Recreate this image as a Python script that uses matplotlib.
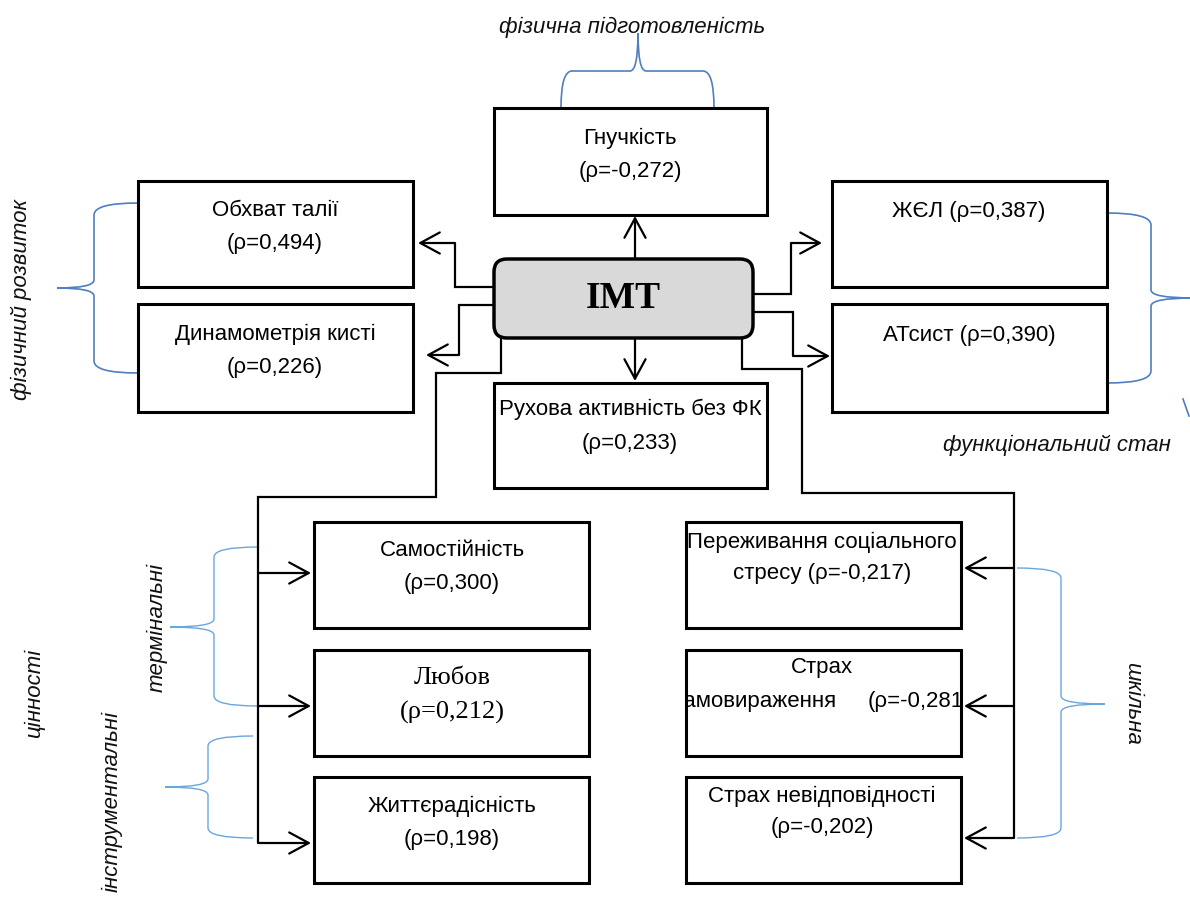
import matplotlib
matplotlib.use("Agg")
import matplotlib.pyplot as plt
from matplotlib.patches import Rectangle, FancyBboxPatch, PathPatch, FancyArrowPatch
from matplotlib.path import Path
from matplotlib.transforms import Bbox, TransformedBbox

plt.rcParams['font.family'] = ['Liberation Sans', 'DejaVu Sans']

# --- data: factors correlated with BMI (Spearman rho) ---
centre_label = "ІМТ"
phys_labels = ["Обхват талії", "Динамометрія кисті"]
phys_rho = [0.494, 0.226]
fit_label = "Гнучкість"
fit_rho = -0.272
func_labels = ["ЖЄЛ", "АТсист"]
func_rho = [0.387, 0.390]
motor_label = "Рухова активність без ФК"
motor_rho = 0.233
value_labels = ["Самостійність", "Любов", "Життєрадісність"]
value_rho = [0.300, 0.212, 0.198]
school_labels = ["Переживання соціального", "Страх самовираження", "Страх невідповідності"]
school_rho = [-0.217, -0.281, -0.202]
group_labels = ["фізична підготовленість", "фізичний розвиток", "функціональний стан",
                "цінності", "термінальні", "інструментальні", "шкільна"]


def rho(v):
    return "(ρ=" + f"{v:.3f}".replace(".", ",") + ")"


fig = plt.figure(figsize=(11.9, 8.98), dpi=100)
ax = fig.add_axes([0, 0, 1, 1])
ax.set_xlim(0, 1190)
ax.set_ylim(898, 0)
ax.axis('off')

BOX_LW = 2.2
LINE_LW = 1.6
FS = 16
DARK_BLUE = '#4f7fbf'
LIGHT_BLUE = '#6aa6de'


def box(x0, y0, x1, y1):
    r = Rectangle((x0, y0), x1 - x0, y1 - y0, fc='white', ec='black', lw=BOX_LW, zorder=3)
    ax.add_patch(r)
    return r


def label(x, y, s, **kw):
    kw.setdefault('fontsize', FS)
    return ax.text(x, y, s, ha='center', va='center', zorder=5, **kw)


def connector(pts):
    # polyline with an open arrow head on the last segment
    xs = [p[0] for p in pts[:-1]]
    ys = [p[1] for p in pts[:-1]]
    ax.plot(xs, ys, color='black', lw=LINE_LW, solid_joinstyle='miter',
            solid_capstyle='butt', zorder=2)
    a = FancyArrowPatch(pts[-2], pts[-1], arrowstyle='->,head_length=0.7,head_width=0.38',
                        mutation_scale=20, lw=LINE_LW, color='black',
                        shrinkA=0, shrinkB=0, zorder=2)
    ax.add_patch(a)


def line(pts):
    ax.plot([p[0] for p in pts], [p[1] for p in pts], color='black', lw=LINE_LW,
            solid_joinstyle='miter', solid_capstyle='butt', zorder=2)


def brace(t, s, m, a1, a2, am, r=10, r2=8, vertical=True, color=DARK_BLUE, lw=1.2):
    # t: tip line, s: spine, m: middle point (perpendicular coordinate)
    # a1, a2, am: positions along the spine
    uv = [(t, a1), (s, a1), (s, a1 + r),
          (s, am - r2), (s, am), (m, am), (s, am), (s, am + r2),
          (s, a2 - r), (s, a2), (t, a2)]
    codes = [Path.MOVETO, Path.CURVE3, Path.CURVE3,
             Path.LINETO, Path.CURVE3, Path.CURVE3, Path.CURVE3, Path.CURVE3,
             Path.LINETO, Path.CURVE3, Path.CURVE3]
    if vertical:
        verts = uv
    else:
        verts = [(v, u) for u, v in uv]
    ax.add_patch(PathPatch(Path(verts, codes), fill=False, ec=color, lw=lw, zorder=1))


# --- centre box ---
ax.add_patch(FancyBboxPatch((494, 259), 259, 79, boxstyle='round,pad=0,rounding_size=13',
                            fc='#d9d9d9', ec='black', lw=2.5, zorder=3))
label(623, 299, centre_label, fontsize=27, fontweight='bold', family='Liberation Serif')

# --- top: flexibility ---
box(494, 108, 767, 215)
label(630, 138, fit_label)
label(630, 171, rho(fit_rho))
connector([(635, 259), (635, 216)])

# --- motor activity ---
box(494, 383, 767, 488)
label(630, 409, motor_label)
label(630, 443, rho(motor_rho))
connector([(635, 338), (635, 381)])

# --- left: physical development ---
box(138, 181, 413, 287)
box(138, 304, 413, 412)
label(275, 210, phys_labels[0])
label(275, 244, rho(phys_rho[0]))
label(275, 334, phys_labels[1])
label(275, 367, rho(phys_rho[1]))
connector([(494, 287), (455, 287), (455, 243), (418, 243)])
connector([(494, 305), (459, 305), (459, 355), (426, 355)])

# --- right: functional state ---
box(832, 181, 1107, 287)
box(832, 304, 1107, 412)
label(969, 211, func_labels[0] + " " + rho(func_rho[0]))
label(969, 336, func_labels[1] + " " + rho(func_rho[1]))
connector([(753, 294), (791, 294), (791, 243), (822, 243)])
connector([(753, 312), (793, 312), (793, 356), (830, 356)])

# --- bottom left: values ---
line([(501, 338), (501, 373), (436, 373), (436, 497), (258, 497), (258, 843)])
val_boxes = [(522, 628), (650, 756), (777, 883)]
val_arrow_y = [573, 706, 843]
for (t, b), ay in zip(val_boxes, val_arrow_y):
    box(314, t, 589, b)
    connector([(258, ay), (311, ay)])
label(452, 551, value_labels[0])
label(452, 584, rho(value_rho[0]))
label(452, 678, value_labels[1], family='Liberation Serif', fontsize=19)
label(452, 712, rho(value_rho[1]), family='Liberation Serif', fontsize=19)
label(452, 806, value_labels[2])
label(452, 839, rho(value_rho[2]))

# --- bottom right: school anxiety ---
line([(742, 338), (742, 369), (802, 369), (802, 493), (1014, 493), (1014, 838)])
sch_boxes = [(522, 628), (650, 756), (777, 883)]
sch_arrow_y = [568, 706, 838]
for (t, b), ay in zip(sch_boxes, sch_arrow_y):
    box(686, t, 961, b)
    connector([(1014, ay), (964, ay)])
label(822, 542, school_labels[0])
label(822, 574, "стресу " + rho(school_rho[0]))
first, second = school_labels[1].split(" ")
label(822, 668, first)
# the second line overflows its box in the original and is cut at the border
clip = TransformedBbox(Bbox([[687.5, 651.5], [959.5, 754.5]]), ax.transData)
t1 = ax.text(836, 701, second, ha='right', va='center', fontsize=FS, zorder=5)
t2 = ax.text(868, 701, rho(school_rho[1]), ha='left', va='center', fontsize=FS, zorder=5)
for t in (t1, t2):
    t.set_clip_path(None)
    t.set_clip_box(clip)
    t.set_clip_on(True)
label(822, 796, school_labels[2])
label(822, 828, rho(school_rho[2]))

# --- braces and group names ---
brace(108, 71, 33, 561, 714, 638, r=11, r2=8, vertical=False)
brace(138, 94, 57, 203, 373, 288, r=12, r2=8)
brace(1107, 1151, 1193, 213, 383, 298, r=12, r2=8)
ax.plot([1183, 1189], [399, 416], color=DARK_BLUE, lw=1.2)
brace(258, 214, 170, 547, 706, 627, r=10, r2=8, color=LIGHT_BLUE, lw=1.0)
brace(253, 208, 165, 736, 838, 787, r=10, r2=8, color=LIGHT_BLUE, lw=1.0)
brace(1017, 1061, 1105, 568, 838, 704, r=10, r2=8, color=LIGHT_BLUE, lw=1.0)

IT = dict(fontsize=16, style='italic', color='#111111')
label(632, 27, group_labels[0], **IT)
label(21, 300, group_labels[1], rotation=90, **IT)
label(1057, 445, group_labels[2], **IT)
label(34, 693, group_labels[3], rotation=90, **IT)
label(157, 627, group_labels[4], rotation=90, **IT)
ax.text(112, 711, group_labels[5], rotation=90, ha='center', va='top', zorder=5, **IT)
label(1133, 703, group_labels[6], rotation=-90, **IT)

fig.savefig("out.png", dpi=100)
